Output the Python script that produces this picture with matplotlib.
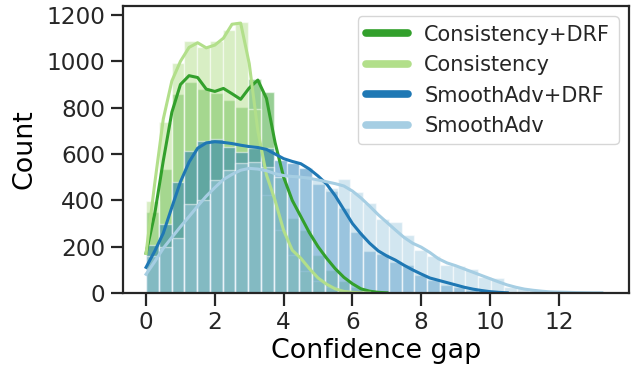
import matplotlib
matplotlib.use("Agg")
import matplotlib.pyplot as plt
from matplotlib.lines import Line2D
import numpy as np

# histogram: 36 bins of equal width starting at 0
bin_start = 0.0
bin_end = 13.37
n_bins = 36

labels = ["Consistency+DRF", "Consistency", "SmoothAdv+DRF", "SmoothAdv"]
colors = ["#33a02c", "#b2df8a", "#1f78b4", "#a6cee3"]

# counts per bin
cons_drf = [350, 535, 857, 912, 879, 865, 833, 801, 922, 869, 500, 322, 272, 164,
            100, 50, 25, 10, 4, 1]
cons = [397, 739, 994, 1087, 1063, 1088, 1135, 1171, 793, 423, 270, 165, 95, 50,
        25, 12, 5, 2]
sadv_drf = [207, 297, 480, 614, 657, 663, 632, 610, 624, 625, 574, 560, 538, 470,
            440, 365, 265, 183, 168, 135, 120, 80, 55, 35, 25, 14, 9, 5, 3, 2, 1]
sadv = [160, 200, 236, 384, 401, 488, 531, 560, 564, 545, 500, 505, 500, 490,
        455, 490, 437, 387, 320, 306, 250, 186, 160, 121, 116, 102, 70, 63, 27,
        21, 13, 7, 4, 3, 2, 1]

# kde curves (in counts), read every 0.25 along x
kde_step = 0.25
kde_cons_drf = [172, 340, 570, 780, 900, 938, 930, 880, 870, 883, 860, 836, 885,
                919, 840, 650, 500, 400, 330, 260, 200, 150, 105, 68, 40, 18, 8,
                3, 1]
kde_cons = [171, 470, 750, 915, 1000, 1060, 1080, 1058, 1070, 1100, 1160, 1165,
            990, 700, 510, 400, 270, 185, 150, 105, 65, 38, 18, 7, 3, 1, 0]
kde_sadv_drf = [111, 180, 258, 370, 480, 565, 625, 648, 653, 650, 645, 638, 632,
                628, 620, 600, 580, 568, 558, 535, 505, 470, 420, 360, 300, 255,
                215, 182, 160, 142, 120, 100, 82, 65, 55, 45, 35, 25, 17, 11, 6,
                3, 1]
kde_sadv = [81, 135, 193, 240, 286, 330, 375, 418, 455, 490, 512, 530, 538, 535,
            528, 515, 507, 503, 500, 495, 488, 480, 472, 462, 440, 410, 375, 338,
            305, 272, 240, 215, 198, 175, 148, 130, 118, 104, 90, 76, 62, 48, 35,
            25, 17, 12, 8, 5, 4, 3, 2, 1.5, 1, 1]

counts = [cons_drf, cons, sadv_drf, sadv]
kdes = [kde_cons_drf, kde_cons, kde_sadv_drf, kde_sadv]

edges = np.linspace(bin_start, bin_end, n_bins + 1)
centers = (edges[:-1] + edges[1:]) / 2

plt.rcParams["font.family"] = "DejaVu Sans"
plt.rcParams["axes.edgecolor"] = "#262626"
plt.rcParams["text.color"] = "#262626"
plt.rcParams["xtick.color"] = "#262626"
plt.rcParams["ytick.color"] = "#262626"

fig, ax = plt.subplots(figsize=(6.36, 3.7), dpi=100)
fig.subplots_adjust(left=0.1934, right=0.989, top=0.984, bottom=0.208)

# greens first, blues layered on top
for i in range(4):
    c = counts[i]
    ax.hist(centers[:len(c)], bins=edges, weights=c, color=colors[i], alpha=0.5,
            edgecolor="white", linewidth=1.0)
for i in range(4):
    y = kdes[i]
    x = np.arange(len(y)) * kde_step
    ax.plot(x, y, color=colors[i], lw=2.2)

ax.set_xlim(-0.67, 14.04)
ax.set_ylim(0, 1239)
ax.set_xticks([0, 2, 4, 6, 8, 10, 12])
ax.set_yticks([0, 200, 400, 600, 800, 1000, 1200])
ax.tick_params(labelsize=16.7, length=9, width=1.6, pad=4)
for s in ax.spines.values():
    s.set_linewidth(1.6)

ax.set_xlabel("Confidence gap", fontsize=19.4, labelpad=3)
ax.set_ylabel("Count", fontsize=19.4, labelpad=6)

handles = [Line2D([0], [0], color=colors[i], lw=5.5, solid_capstyle="round")
           for i in range(4)]
ax.legend(handles, labels, loc="upper right", fontsize=15, framealpha=0.8)

plt.savefig("out.png", dpi=100)
